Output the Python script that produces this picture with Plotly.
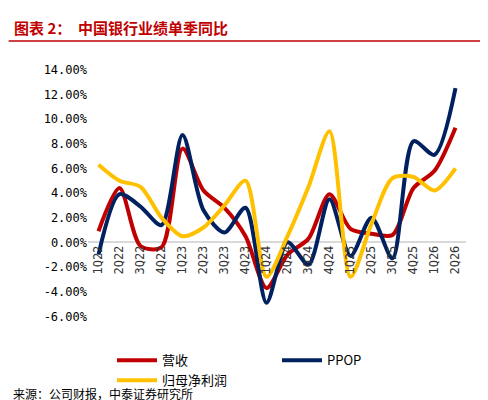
import plotly.graph_objects as go

categories = ["1Q22","2Q22","3Q22","4Q22","1Q23","2Q23","3Q23","4Q23","1Q24","2Q24","3Q24","4Q24","1Q25","2Q25","3Q25","4Q25","1Q26","2Q26"]
revenue = [0.9,4.4,-0.3,-0.4,7.6,4.2,2.8,0.5,-3.7,-1.0,0.3,3.9,1.1,0.7,0.6,4.4,5.8,9.3]
ppop = [-1.0,3.9,2.9,1.4,8.7,2.6,0.8,2.8,-4.9,0.0,-1.8,3.5,-1.1,2.0,-1.3,8.2,7.1,12.5]
net_profit = [6.3,5.0,4.5,2.0,0.5,1.2,3.0,5.0,-2.8,0.5,4.5,9.0,-2.8,1.5,5.2,5.3,4.2,6.0]
yticks = [-6,-4,-2,0,2,4,6,8,10,12,14]

fig = go.Figure()
for name, vals, color in [("营收", revenue, "#C00000"), ("PPOP", ppop, "#002060"), ("归母净利润", net_profit, "#FFC000")]:
    fig.add_trace(go.Scatter(x=list(range(len(categories))), y=vals, name=name, mode="lines",
                             line=dict(color=color, width=4, shape="spline", smoothing=0.8)))

for i, c in enumerate(categories):
    fig.add_annotation(x=i, y=-0.1, xref="x", yref="y", text=c, textangle=-90, showarrow=False,
                       yanchor="top", font=dict(size=12, color="#333", family="DejaVu Sans Mono"))

fig.add_annotation(x=-0.2, y=1.2, xref="paper", yref="paper", yanchor="top", xanchor="left",
                   text="<b>图表 2：  中国银行业绩单季同比</b>", showarrow=False,
                   font=dict(size=15, color="#C00000", family="Noto Sans CJK SC"))
fig.add_shape(type="line", xref="paper", yref="paper", x0=-0.21, x1=1.08, y0=1.098, y1=1.098,
              line=dict(color="#C00000", width=1.5))
fig.add_annotation(x=-0.205, y=-0.33, xref="paper", yref="paper", yanchor="bottom", xanchor="left",
                   text="来源：公司财报，中泰证券研究所", showarrow=False,
                   font=dict(size=12, color="#000", family="Noto Sans CJK SC"))

fig.update_layout(
    width=488, height=400, paper_bgcolor="white", plot_bgcolor="white",
    margin=dict(l=80, r=30, t=58, b=88),
    showlegend=True,
    legend=dict(orientation="h", x=0.5, xanchor="center", y=-0.1, yanchor="top",
                font=dict(size=13, family="Noto Sans CJK SC", color="#000"),
                itemwidth=40, entrywidthmode="pixels", entrywidth=110),
    xaxis=dict(range=[-0.5, 17.5], showticklabels=False, showgrid=False, zeroline=False),
    yaxis=dict(range=[-6.3, 14.3], tickvals=yticks, ticktext=[f"{v:.2f}%" for v in yticks],
               showgrid=False, zeroline=True, zerolinecolor="#d9d9d9", zerolinewidth=1.5,
               tickfont=dict(size=12, family="DejaVu Sans Mono", color="#000")),
)
fig.write_html("out.html")
